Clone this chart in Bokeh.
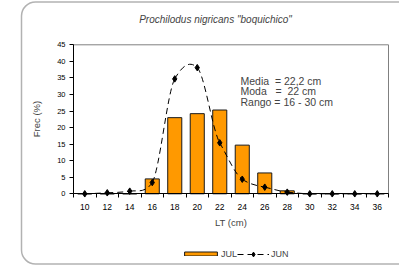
from bokeh.plotting import figure
from bokeh.models import (Range1d, FixedTicker, Label, Legend, LegendItem,
                          BoxAnnotation)
from bokeh.embed import file_html
from bokeh.resources import INLINE

# ---- data ----
lt = [10, 12, 14, 16, 18, 20, 22, 24, 26, 28, 30, 32, 34, 36]
jul = [0, 0, 0, 4.5, 23.0, 24.2, 25.3, 14.7, 6.3, 0.9, 0, 0, 0, 0]
jun = [0, 0.3, 0.8, 3.4, 34.7, 38.1, 15.4, 4.4, 2.0, 0.5, 0, 0, 0, 0]
yticks = [0, 5, 10, 15, 20, 25, 30, 35, 40, 45]
title_text = 'Prochilodus nigricans "boquichico"'
stats = ["Media  = 22,2 cm", "Moda   =  22 cm", "Rango = 16 - 30 cm"]
series_names = ["JUL", "JUN"]

FONT = "Liberation Sans"
ORANGE = "#FF9900"
W, H = 399, 265
# plot-area box on the canvas (pixels)
PL, PR, PT, PB = 73, 388, 44.3, 193.3

xmin, xmax = lt[0] - 1, lt[-1] + 1
ymin, ymax = yticks[0], yticks[-1]
xs = (xmax - xmin) / (PR - PL)
ys = (ymax - ymin) / (PB - PT)

p = figure(width=W, height=H, output_backend="svg", toolbar_location=None,
           title=None,
           x_range=Range1d(xmin - PL * xs, xmax + (W - PR) * xs),
           y_range=Range1d(ymin - (H - PB) * ys, ymax + PT * ys),
           min_border=0)
p.background_fill_color = "white"
p.border_fill_color = "white"
p.outline_line_color = None
p.grid.visible = False

# plot-area frame (grey top / right)
p.line(x=[xmin, xmax, xmax], y=[ymax, ymax, ymin], line_color="#808080",
       line_width=1)

# bars
bars = p.vbar(x=lt, top=jul, width=1.25, fill_color=ORANGE,
              line_color="#1a1a1a", line_width=1)

# smoothed dashed line (bezier through the data points)
n = len(lt)
K = 0.7
def tangent(arr, i):
    if i == 0:
        return arr[1] - arr[0]
    if i == n - 1:
        return arr[-1] - arr[-2]
    return (arr[i + 1] - arr[i - 1]) / 2.0
x0, y0, x1, y1, cx0, cy0, cx1, cy1 = [], [], [], [], [], [], [], []
for i in range(n - 1):
    x0.append(lt[i]); y0.append(jun[i])
    x1.append(lt[i + 1]); y1.append(jun[i + 1])
    cx0.append(lt[i] + tangent(lt, i) / 3.0)
    cy0.append(max(jun[i] + K * tangent(jun, i) / 3.0, ymin))
    cx1.append(lt[i + 1] - tangent(lt, i + 1) / 3.0)
    cy1.append(max(jun[i + 1] - K * tangent(jun, i + 1) / 3.0, ymin))
bz = p.bezier(x0=x0, y0=y0, x1=x1, y1=y1, cx0=cx0, cy0=cy0, cx1=cx1,
              cy1=cy1, line_color="black", line_width=1, line_dash="6 4")
sc = p.scatter(lt, jun, marker="diamond", size=6.5, color="black")

# axes
minor = [v - 1 for v in lt] + [lt[-1] + 1]
xa = p.xaxis[0]
xa.fixed_location = ymin
xa.bounds = (xmin, xmax)
xa.ticker = FixedTicker(ticks=lt, minor_ticks=minor)
xa.major_tick_out = 0
xa.major_tick_in = 0
xa.minor_tick_out = 4
xa.minor_tick_in = 0
xa.minor_tick_line_color = "black"
xa.major_label_standoff = 6
xa.major_label_text_font = FONT
xa.major_label_text_font_size = "8.5px"
xa.major_label_text_color = "black"
xa.axis_label = "LT (cm)"
xa.axis_label_text_font = FONT
xa.axis_label_text_font_size = "9.5px"
xa.axis_label_text_font_style = "normal"
xa.axis_label_standoff = 4
xa.axis_line_color = "black"

ya = p.yaxis[0]
ya.fixed_location = xmin
ya.bounds = (ymin, ymax)
ya.ticker = FixedTicker(ticks=yticks)
ya.major_tick_out = 4
ya.major_tick_in = 0
ya.minor_tick_line_color = None
ya.major_label_standoff = 4
ya.major_label_text_font = FONT
ya.major_label_text_font_size = "7.5px"
ya.major_label_text_color = "black"
ya.axis_label = "Frec (%)"
ya.axis_label_text_font = FONT
ya.axis_label_text_font_size = "9.5px"
ya.axis_label_text_font_style = "normal"
ya.axis_label_standoff = 12
ya.axis_line_color = "black"

# title
p.add_layout(Label(x=215, y=19, x_units="canvas", y_units="canvas",
                   text=title_text, text_font=FONT, text_font_style="italic",
                   text_font_size="10px", text_align="center",
                   text_baseline="middle"))

# stats text
for k, s in enumerate(stats):
    p.add_layout(Label(x=240, y=80 + 10.5 * k, x_units="canvas",
                       y_units="canvas", text=s.replace(" ", "\u00a0"),
                       text_font=FONT, text_font_size="10.5px",
                       text_align="left", text_baseline="middle"))

# rounded outer border
p.add_layout(BoxAnnotation(left=21, right=440, top=1.5, bottom=263.5,
                           left_units="canvas", right_units="canvas",
                           top_units="canvas", bottom_units="canvas",
                           fill_alpha=0, line_color="black", line_width=1.5,
                           border_radius=14))

# legends
common = dict(orientation="horizontal", label_height=12, label_text_font=FONT,
              label_text_font_size="9px", spacing=0, padding=0, margin=0,
              border_line_color=None, background_fill_alpha=0)
leg1 = Legend(items=[LegendItem(label=series_names[0], renderers=[bars])],
              location=(180, 5.5), glyph_width=41, glyph_height=5,
              label_standoff=0, **common)
leg2 = Legend(items=[LegendItem(label=series_names[1], renderers=[bz, sc])],
              location=(237, 5.5), glyph_width=32, glyph_height=12,
              label_standoff=2, **common)
p.add_layout(leg1)
p.add_layout(leg2)

open("out.html", "w").write(file_html(p, INLINE))
